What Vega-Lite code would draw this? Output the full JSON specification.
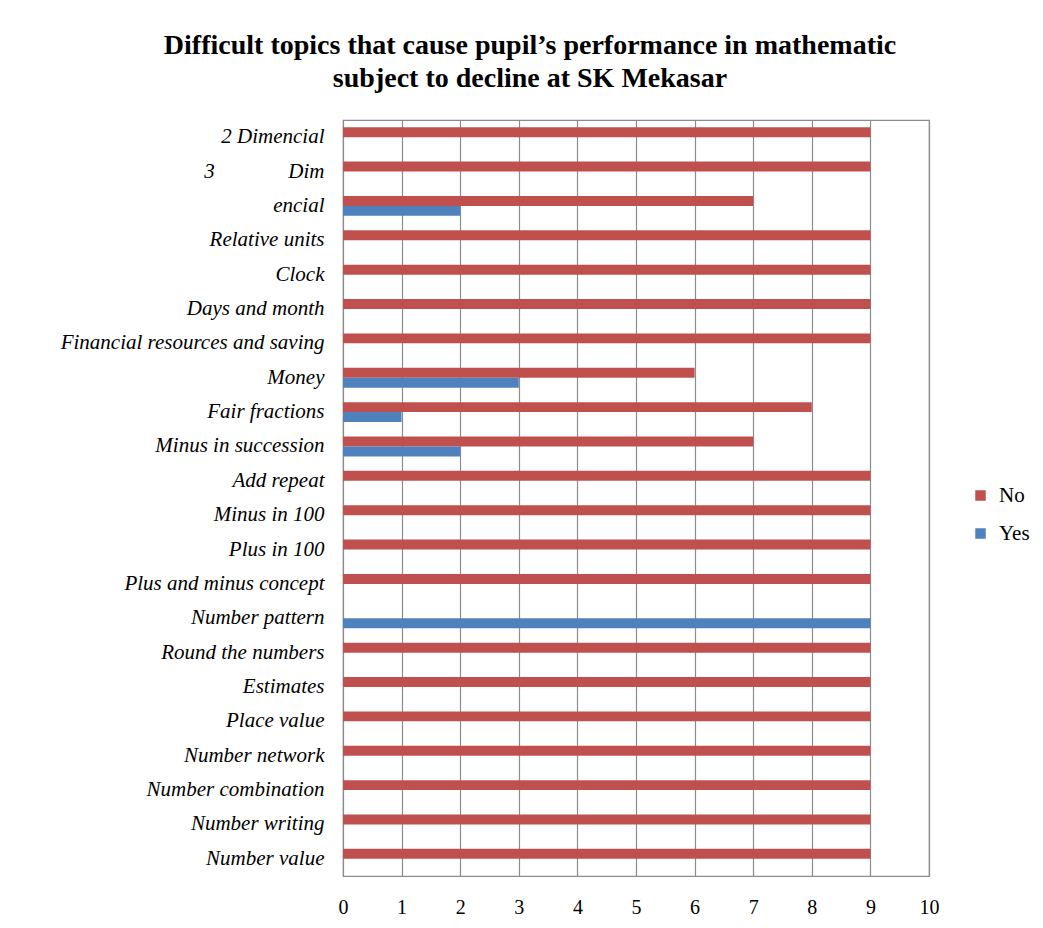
{
  "$schema": "https://vega.github.io/schema/vega-lite/v6.json",
  "width": 586,
  "height": 756,
  "autosize": {"type": "none"},
  "padding": {"left": 343, "top": 120, "right": 114, "bottom": 52},
  "background": "white",
  "title": {
    "text": ["Difficult topics that cause pupil’s performance in mathematic", "subject to decline at SK Mekasar"],
    "font": "Liberation Serif",
    "fontSize": 28,
    "fontWeight": "bold",
    "color": "black",
    "anchor": "middle",
    "dx": -106,
    "offset": 27,
    "lineHeight": 33
  },
  "data": {
    "values": [
      {"topic": "2 Dimencial", "answer": "No", "count": 9},
      {"topic": "3\u00a0\u00a0\u00a0\u00a0\u00a0\u00a0\u00a0\u00a0\u00a0\u00a0\u00a0\u00a0\u00a0\u00a0Dim", "answer": "No", "count": 9},
      {"topic": "encial", "answer": "No", "count": 7},
      {"topic": "encial", "answer": "Yes", "count": 2},
      {"topic": "Relative units", "answer": "No", "count": 9},
      {"topic": "Clock", "answer": "No", "count": 9},
      {"topic": "Days and month", "answer": "No", "count": 9},
      {"topic": "Financial resources and saving", "answer": "No", "count": 9},
      {"topic": "Money", "answer": "No", "count": 6},
      {"topic": "Money", "answer": "Yes", "count": 3},
      {"topic": "Fair fractions", "answer": "No", "count": 8},
      {"topic": "Fair fractions", "answer": "Yes", "count": 1},
      {"topic": "Minus in succession", "answer": "No", "count": 7},
      {"topic": "Minus in succession", "answer": "Yes", "count": 2},
      {"topic": "Add repeat", "answer": "No", "count": 9},
      {"topic": "Minus in 100", "answer": "No", "count": 9},
      {"topic": "Plus in 100", "answer": "No", "count": 9},
      {"topic": "Plus and minus concept", "answer": "No", "count": 9},
      {"topic": "Number pattern", "answer": "Yes", "count": 9},
      {"topic": "Round the numbers", "answer": "No", "count": 9},
      {"topic": "Estimates", "answer": "No", "count": 9},
      {"topic": "Place value", "answer": "No", "count": 9},
      {"topic": "Number network", "answer": "No", "count": 9},
      {"topic": "Number combination", "answer": "No", "count": 9},
      {"topic": "Number writing", "answer": "No", "count": 9},
      {"topic": "Number value", "answer": "No", "count": 9}
    ]
  },
  "mark": {"type": "bar"},
  "encoding": {
    "y": {
      "field": "topic",
      "type": "nominal",
      "sort": ["2 Dimencial", "3\u00a0\u00a0\u00a0\u00a0\u00a0\u00a0\u00a0\u00a0\u00a0\u00a0\u00a0\u00a0\u00a0\u00a0Dim", "encial", "Relative units", "Clock", "Days and month", "Financial resources and saving", "Money", "Fair fractions", "Minus in succession", "Add repeat", "Minus in 100", "Plus in 100", "Plus and minus concept", "Number pattern", "Round the numbers", "Estimates", "Place value", "Number network", "Number combination", "Number writing", "Number value"],
      "scale": {"paddingInner": 0.42, "paddingOuter": 0.21},
      "axis": {
        "title": null,
        "ticks": false,
        "domain": false,
        "labelFont": "Liberation Serif",
        "labelFontStyle": "italic",
        "labelFontSize": 21,
        "labelColor": "black",
        "labelPadding": 19,
        "labelLimit": 400
      }
    },
    "yOffset": {"field": "answer", "type": "nominal", "sort": ["No", "Yes"], "scale": {"domain": ["No", "Yes"]}},
    "x": {
      "field": "count",
      "type": "quantitative",
      "scale": {"domain": [0, 10], "nice": false},
      "axis": {
        "title": null,
        "values": [0, 1, 2, 3, 4, 5, 6, 7, 8, 9, 10],
        "ticks": false,
        "domain": true,
        "domainColor": "#8c8c8c",
        "grid": true,
        "gridColor": "#8c8c8c",
        "gridWidth": 1.2,
        "labelFont": "Liberation Serif",
        "labelFontSize": 20,
        "labelColor": "black",
        "labelPadding": 21,
        "labelFlush": false
      }
    },
    "color": {
      "field": "answer",
      "type": "nominal",
      "scale": {"domain": ["No", "Yes"], "range": ["#C0504D", "#4F81BD"]},
      "legend": {
        "title": null,
        "orient": "none",
        "legendX": 627,
        "legendY": 365,
        "symbolType": "square",
        "symbolSize": 110,
        "symbolStrokeWidth": 0,
        "labelFont": "Liberation Serif",
        "labelFontSize": 21,
        "labelColor": "black",
        "labelOffset": 8,
        "rowPadding": 16
      }
    }
  },
  "config": {"view": {"stroke": "#8c8c8c", "strokeWidth": 1.2}}
}
